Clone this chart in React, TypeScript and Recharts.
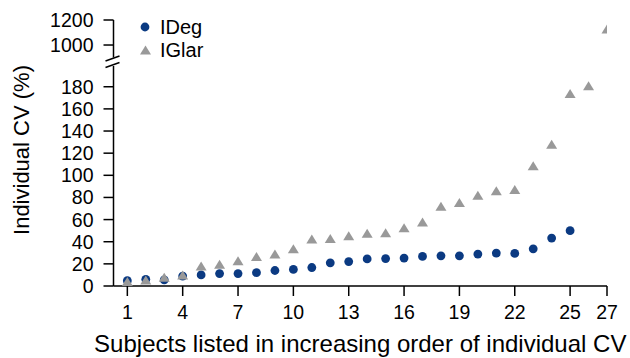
import React from 'react';
import { ScatterChart, Scatter, XAxis, YAxis, Legend } from 'recharts';

// subjects ordered by increasing individual CV
const subjects = [1, 2, 3, 4, 5, 6, 7, 8, 9, 10, 11, 12, 13, 14, 15, 16, 17, 18, 19, 20, 21, 22, 23, 24, 25, 26, 27];
const idegCV = [4.8, 6, 5.5, 9, 10, 11.2, 11.2, 12, 14, 15, 16.7, 20.9, 22.1, 24.5, 24.8, 25.2, 26.7, 27.3, 27.3, 28.8, 29.7, 29.4, 33.6, 43.3, 50];
const iglarCV = [4, 5.5, 7.9, 10, 18, 19.7, 22.7, 26.7, 29, 33.6, 42.4, 43, 45.5, 47.6, 48.2, 52.7, 57.9, 72, 75.5, 82, 86, 87.2, 108.6, 128, 174, 181, 1128];

const xTicks = [1, 4, 7, 10, 13, 16, 19, 22, 25, 27];
const yTicksLow = [0, 20, 40, 60, 80, 100, 120, 140, 160, 180];
const yTicksHigh = [1000, 1200];

// broken y axis: 0-200 linear, then 1000+ compressed above the break
const HIGH_BASE = 1000;
const HIGH_POS = 217.7;
const HIGH_RATIO = 0.113;
const toAxis = (v: number) => (v <= 200 ? v : HIGH_POS + (v - HIGH_BASE) * HIGH_RATIO);

const yTickLabels = [...yTicksLow, ...yTicksHigh];
const yTicks = yTickLabels.map(toAxis);
const yTop = toAxis(1200);

const idegData = idegCV.map((v, i) => ({ x: subjects[i], y: toAxis(v), cv: v }));
const iglarData = iglarCV.map((v, i) => ({ x: subjects[i], y: toAxis(v), cv: v }));

const NAVY = '#0b3a82';
const GRAY = '#999999';
const FONT = '"Liberation Sans", Arial, Helvetica, sans-serif';

const DotShape = (props: any) => <circle cx={props.cx} cy={props.cy} r={4.4} fill={NAVY} />;

const TriShape = (props: any) => {
  const { cx, cy } = props;
  return (
    <polygon
      points={`${cx},${cy - 4.5} ${cx - 5.5},${cy + 4.5} ${cx + 5.5},${cy + 4.5}`}
      fill={GRAY}
    />
  );
};

const renderLegend = () => (
  <svg width={90} height={50} style={{ display: 'block' }}>
    <circle cx={9} cy={12} r={4.4} fill={NAVY} />
    <text x={24} y={12} dominantBaseline="central" fontSize={20} fill="#000" fontFamily={FONT}>IDeg</text>
    <polygon points="9.5,30.5 4,39.5 15,39.5" fill={GRAY} />
    <text x={24} y={35} dominantBaseline="central" fontSize={20} fill="#000" fontFamily={FONT}>IGlar</text>
  </svg>
);

export default function App() {
  return (
    <div style={{ position: 'absolute', left: 0, top: 0, width: 630, height: 358, background: '#fff', fontFamily: FONT }}>
      <ScatterChart width={630} height={358} margin={{ top: 20, right: 23, bottom: 0, left: 0 }}>
        <XAxis
          type="number"
          dataKey="x"
          domain={[0.25, 27]}
          ticks={xTicks}
          allowDataOverflow
          height={72}
          tickSize={10}
          tickMargin={9}
          stroke="#000"
          strokeWidth={1.5}
          tick={{ fill: '#000', fontSize: 19.5 }}
          label={{
            content: (p: any) => {
              const vb = p.viewBox;
              return (
                <text x={vb.x + vb.width / 2} y={352} textAnchor="middle" fontSize={24} fill="#000">
                  Subjects listed in increasing order of individual CV
                </text>
              );
            },
          }}
        />
        <YAxis
          type="number"
          dataKey="y"
          domain={[0, yTop]}
          ticks={yTicks}
          interval={0}
          width={113.5}
          tickSize={10}
          tickMargin={10}
          stroke="#000"
          strokeWidth={1.5}
          tick={{ fill: '#000', fontSize: 19.5 }}
          tickFormatter={(t: number) => {
            const i = yTicks.findIndex((v) => Math.abs(v - t) < 0.01);
            return i >= 0 ? String(yTickLabels[i]) : '';
          }}
          label={{
            content: () => (
              <text x={28.5} y={150} transform="rotate(-90, 28.5, 150)" textAnchor="middle" fontSize={22} fill="#000">
                Individual CV (%)
              </text>
            ),
          }}
        />
        <Legend
          layout="vertical"
          align="center"
          verticalAlign="middle"
          content={renderLegend}
          wrapperStyle={{ left: 136, top: 15, width: 90, height: 50 }}
        />
        <Scatter name="IDeg" data={idegData} shape={DotShape} isAnimationActive={false} />
        <Scatter name="IGlar" data={iglarData} shape={TriShape} isAnimationActive={false} />
      </ScatterChart>
      {/* axis break marks */}
      <svg width={630} height={358} style={{ position: 'absolute', left: 0, top: 0, pointerEvents: 'none' }}>
        <rect x={110} y={57.5} width={8} height={8.5} fill="#fff" />
        <line x1={105.5} y1={61} x2={119.5} y2={56} stroke="#000" strokeWidth={1.5} />
        <line x1={105.5} y1={67.5} x2={119.5} y2={62.5} stroke="#000" strokeWidth={1.5} />
      </svg>
    </div>
  );
}
